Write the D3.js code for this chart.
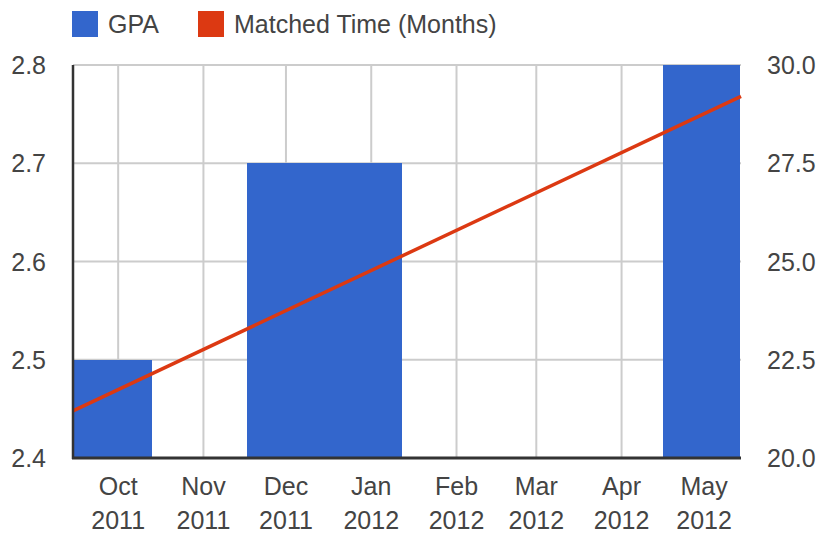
<!DOCTYPE html>
<html>
<head>
<meta charset="utf-8">
<script src="https://cdn.jsdelivr.net/npm/d3@7"></script>
<style>
  body { margin: 0; background: #fff; }
  text { font-family: "Liberation Sans", Arial, sans-serif; fill: #444; }
</style>
</head>
<body>
<div id="chart"></div>
<script>
// data
const gpaDates = ["2011-09-29", "2011-12-01", "2011-12-29", "2012-04-30"];
const gpaValues = [2.5, 2.7, 2.7, 2.8];
const timeDates = ["2011-09-14T14:00", "2012-05-14T10:00"];
const timeValues = [21.2, 29.2];
const monthLabels = ["Oct", "Nov", "Dec", "Jan", "Feb", "Mar", "Apr", "May"];
const yearLabels = ["2011", "2011", "2011", "2012", "2012", "2012", "2012", "2012"];
const gpaTicks = [2.4, 2.5, 2.6, 2.7, 2.8];
const monthTicks = [20, 22.5, 25, 27.5, 30];

const width = 822, height = 533;
const plot = { left: 73, right: 741, top: 65, bottom: 458 };
const barDays = 28;

const parseDay = d3.timeParse("%Y-%m-%d");
const parseHour = d3.timeParse("%Y-%m-%dT%H:%M");

const svg = d3.select("#chart").append("svg")
  .attr("width", width)
  .attr("height", height);

const x = d3.scaleTime()
  .domain([parseHour(timeDates[0]), parseHour(timeDates[1])])
  .range([plot.left, plot.right]);
const yLeft = d3.scaleLinear().domain([2.4, 2.8]).range([plot.bottom, plot.top]);
const yRight = d3.scaleLinear().domain([20, 30]).range([plot.bottom, plot.top]);

const months = d3.timeMonth.range(x.domain()[0], x.domain()[1]);

// grid
svg.append("g").selectAll("line").data(months).join("line")
  .attr("x1", d => x(d)).attr("x2", d => x(d))
  .attr("y1", plot.top).attr("y2", plot.bottom)
  .attr("stroke", "#ccc").attr("stroke-width", 2);
svg.append("g").selectAll("line").data(gpaTicks.slice(1)).join("line")
  .attr("x1", plot.left).attr("x2", plot.right)
  .attr("y1", d => yLeft(d)).attr("y2", d => yLeft(d))
  .attr("stroke", "#ccc").attr("stroke-width", 2);

// bars
svg.append("clipPath").attr("id", "clip").append("rect")
  .attr("x", plot.left).attr("y", plot.top)
  .attr("width", plot.right - plot.left).attr("height", plot.bottom - plot.top);

const bars = gpaDates.map((d, i) => ({ date: parseDay(d), value: gpaValues[i] }));
svg.append("g").attr("clip-path", "url(#clip)")
  .attr("shape-rendering", "crispEdges")
  .selectAll("rect").data(bars).join("rect")
  .attr("x", d => x(d3.timeHour.offset(d.date, -barDays * 12)))
  .attr("width", d => x(d3.timeHour.offset(d.date, barDays * 12)) - x(d3.timeHour.offset(d.date, -barDays * 12)) + 0.5)
  .attr("y", d => yLeft(d.value))
  .attr("height", d => plot.bottom - yLeft(d.value))
  .attr("fill", "#3366cc");

// line
const linePts = timeDates.map((d, i) => ({ date: parseHour(d), value: timeValues[i] }));
svg.append("path").datum(linePts)
  .attr("d", d3.line().x(d => x(d.date)).y(d => yRight(d.value)))
  .attr("fill", "none")
  .attr("stroke", "#dc3912")
  .attr("stroke-width", 3.5);

// axes lines
svg.append("line")
  .attr("x1", plot.left).attr("x2", plot.left)
  .attr("y1", plot.top).attr("y2", plot.bottom + 1)
  .attr("stroke", "#333").attr("stroke-width", 2.5);
svg.append("line")
  .attr("x1", plot.left - 1).attr("x2", plot.right)
  .attr("y1", plot.bottom).attr("y2", plot.bottom)
  .attr("stroke", "#333").attr("stroke-width", 3);

// tick labels
svg.append("g").selectAll("text").data(gpaTicks).join("text")
  .attr("x", 46).attr("y", d => yLeft(d))
  .attr("dy", "0.36em")
  .attr("text-anchor", "end")
  .attr("font-size", 25)
  .text(d => d.toFixed(1));
svg.append("g").selectAll("text").data(monthTicks).join("text")
  .attr("x", 767).attr("y", d => yRight(d))
  .attr("dy", "0.36em")
  .attr("font-size", 25)
  .text(d => d.toFixed(1));

const xl = svg.append("g").selectAll("g").data(months).join("g")
  .attr("transform", d => `translate(${x(d)},0)`);
xl.append("text").attr("y", 495).attr("text-anchor", "middle")
  .attr("font-size", 25).text((d, i) => monthLabels[i]);
xl.append("text").attr("y", 529).attr("text-anchor", "middle")
  .attr("font-size", 25).text((d, i) => yearLabels[i]);

// legend
const legend = [
  { name: "GPA", color: "#3366cc", x: 72 },
  { name: "Matched Time (Months)", color: "#dc3912", x: 198 }
];
const lg = svg.append("g").selectAll("g").data(legend).join("g")
  .attr("transform", d => `translate(${d.x},11)`);
lg.append("rect").attr("width", 26).attr("height", 26).attr("fill", d => d.color);
lg.append("text").attr("x", 36).attr("y", 13).attr("dy", "0.36em")
  .attr("font-size", 25).text(d => d.name);
</script>
</body>
</html>
